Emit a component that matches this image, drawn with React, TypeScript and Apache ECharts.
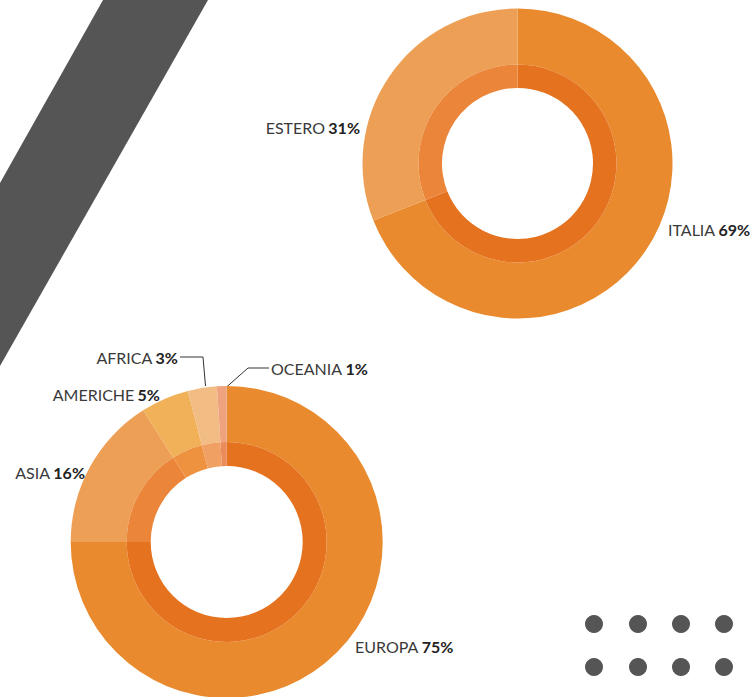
import React, { useEffect, useRef } from "react";
import * as echarts from "echarts";

// Top donut: origin of visitors
const topNames = ["ITALIA", "ESTERO"];
const topValues = [69, 31];
const topOuterColors = ["#E98A2E", "#EDA055"];
const topInnerColors = ["#E5721F", "#EB853A"];

// Bottom donut: foreign visitors by continent
const botNames = ["EUROPA", "ASIA", "AMERICHE", "AFRICA", "OCEANIA"];
const botValues = [75, 16, 5, 3, 1];
const botOuterColors = ["#E98A2E", "#EDA055", "#F0B159", "#F2BD84", "#EFA27E"];
const botInnerColors = ["#E5721F", "#EB853A", "#EE9240", "#F0A062", "#EB8A5A"];

// label placement (anchor = right or left edge of text, vertical middle)
const labelPlace: Record<string, { x: number; y: number; align: string; line?: number[][] }> = {
  ITALIA: { x: 668, y: 229, align: "left" },
  ESTERO: { x: 360, y: 127, align: "right" },
  EUROPA: { x: 355, y: 646, align: "left" },
  ASIA: { x: 85, y: 472, align: "right" },
  AMERICHE: { x: 160, y: 394, align: "right" },
  AFRICA: {
    x: 178,
    y: 357,
    align: "right",
    line: [[205.5, 386], [203, 357], [180, 357]],
  },
  OCEANIA: {
    x: 271,
    y: 368,
    align: "left",
    line: [[226.5, 387], [248, 368], [269, 368]],
  },
};

const rich = {
  n: { fontFamily: "Lato", fontWeight: 400, fontSize: 16, color: "#3a3a3a" },
  p: { fontFamily: "Lato", fontWeight: 700, fontSize: 16, color: "#222222" },
};

function buildData(names: string[], values: number[], colors: string[]) {
  return names.map((n, i) => ({ name: n, value: values[i], itemStyle: { color: colors[i] } }));
}

function makeLayout(names: string[]) {
  return (params: any) => {
    const p = labelPlace[names[params.dataIndex]];
    const res: any = { x: p.x, y: p.y, align: p.align, verticalAlign: "middle" };
    if (p.line) res.labelLinePoints = p.line;
    return res;
  };
}

export default function App() {
  const ref = useRef<HTMLDivElement>(null);
  useEffect(() => {
    document.body.style.margin = "0";
    const chart = echarts.init(ref.current!, null, { renderer: "svg" });
    const outerLabel = {
      show: true,
      formatter: "{n|{b}} {p|{c}%}",
      overflow: "none",
      rich,
    };
    chart.setOption({
      animation: false,
      backgroundColor: "#ffffff",
      graphic: [
        {
          type: "polygon",
          shape: { points: [[103, 0], [208, 0], [0, 366], [0, 183]] },
          style: { fill: "#555555" },
          z: -1,
        },
        ...[594, 638, 681, 724].flatMap((x) =>
          [624, 667].map((y) => ({
            type: "circle",
            shape: { cx: x, cy: y, r: 9 },
            style: { fill: "#555555" },
          }))
        ),
      ],
      series: [
        {
          type: "pie",
          center: [517.5, 163.5],
          radius: [99, 155],
          startAngle: 90,
          clockwise: true,
          silent: true,
          label: outerLabel,
          labelLine: { show: false },
          labelLayout: makeLayout(topNames),
          data: buildData(topNames, topValues, topOuterColors),
        },
        {
          type: "pie",
          center: [517.5, 163.5],
          radius: [75.5, 99],
          startAngle: 90,
          silent: true,
          label: { show: false },
          labelLine: { show: false },
          data: buildData(topNames, topValues, topInnerColors),
        },
        {
          type: "pie",
          center: [226.7, 542],
          radius: [100, 156],
          startAngle: 90,
          silent: true,
          label: outerLabel,
          labelLine: { show: true, lineStyle: { color: "#333333", width: 1 } },
          labelLayout: makeLayout(botNames),
          data: buildData(botNames, botValues, botOuterColors).map((d) => ({
            ...d,
            labelLine: { show: !!labelPlace[d.name].line },
          })),
        },
        {
          type: "pie",
          center: [226.7, 542],
          radius: [76, 100],
          startAngle: 90,
          silent: true,
          label: { show: false },
          labelLine: { show: false },
          data: buildData(botNames, botValues, botInnerColors),
        },
      ],
    });
    return () => chart.dispose();
  }, []);
  return <div ref={ref} style={{ width: 754, height: 697 }} />;
}
